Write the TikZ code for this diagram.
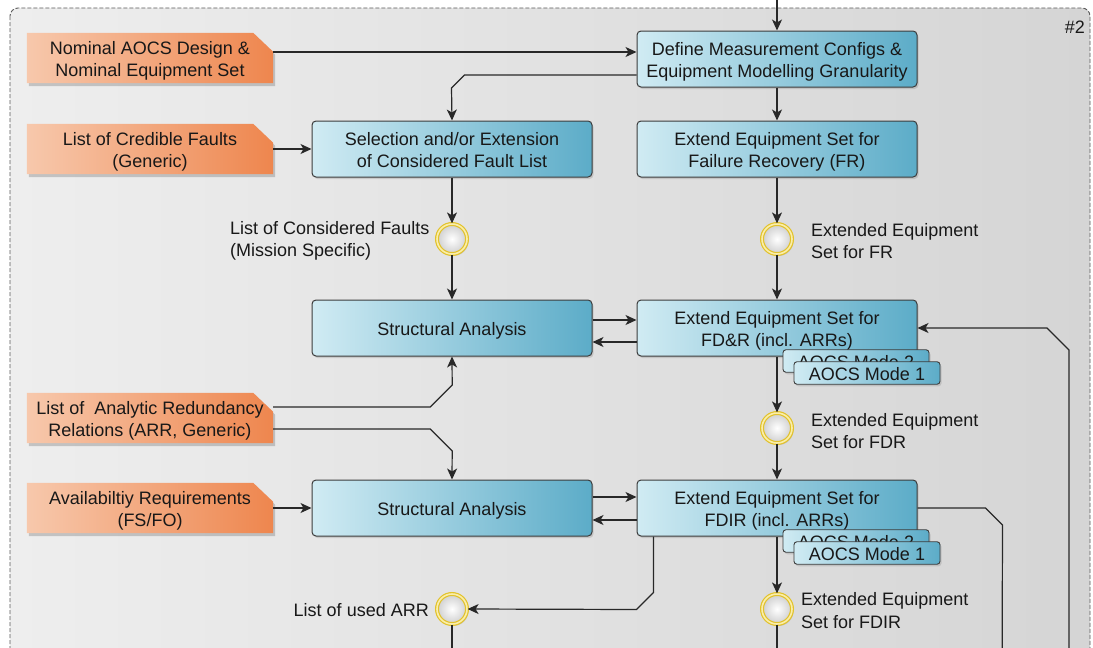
\documentclass[tikz,border=0pt]{standalone}
\usepackage{fontspec}
\setmainfont{Liberation Sans}
\usetikzlibrary{arrows.meta,shadows}

\definecolor{orL}{RGB}{247,200,172}
\definecolor{orR}{RGB}{238,134,78}
\definecolor{blL}{RGB}{208,235,243}
\definecolor{blR}{RGB}{92,172,200}
\definecolor{lineC}{RGB}{40,40,40}
\definecolor{edgeC}{RGB}{60,60,60}
\definecolor{ringC}{RGB}{226,194,44}
\definecolor{ringIn}{RGB}{250,238,170}
\definecolor{bgL}{RGB}{238,238,238}
\definecolor{bgR}{RGB}{213,213,213}
\definecolor{txt}{RGB}{24,24,24}

\pgfdeclarelayer{frame}
\pgfdeclarelayer{shapes}
\pgfsetlayers{frame,shapes,main}

% centred block of lines, set on struts and lowered a little inside its box
\newcommand\ctext[1]{\raisebox{-3pt}[\height][\depth]{\begin{tabular}{@{}c@{}}#1\end{tabular}}}

% orange input with a cut top-right corner, filled behind its text node
\newcommand\cutcornerfill[1]{%
  \begin{pgfonlayer}{shapes}
    \fill[black,opacity=0.18]
      ([shift={(2pt,-3pt)}]#1.south west) -- ([shift={(2pt,-3pt)}]#1.north west)
      -- ([shift={(-18pt,-3pt)}]#1.north east) -- ([shift={(2pt,-22pt)}]#1.north east)
      -- ([shift={(2pt,-3pt)}]#1.south east) -- cycle;
    \shade[left color=orL,right color=orR]
      (#1.south west) -- (#1.north west) -- ([xshift=-20pt]#1.north east)
      -- ([yshift=-19pt]#1.north east) -- (#1.south east) -- cycle;
  \end{pgfonlayer}}

\begin{document}
\begin{tikzpicture}[x=1pt,y=-1pt,
  font=\fontsize{18}{22.5}\selectfont, text=txt,
  softshadow/.style={drop shadow={opacity=0.28,shadow xshift=1.5pt,shadow yshift=-2pt}},
  proc/.style={rectangle,rounded corners=4pt,draw=edgeC,line width=1pt,
    left color=blL,right color=blR,minimum width=280pt,minimum height=56pt,
    inner sep=0pt,align=center,softshadow},
  modetab/.style={rectangle,rounded corners=3pt,draw=edgeC,line width=0.9pt,
    left color=blL,right color=blR,minimum width=146pt,minimum height=22pt,
    inner sep=0pt,softshadow},
  inbox/.style={minimum width=246pt,minimum height=50pt,inner sep=0pt,align=center},
  datastore/.style={circle,minimum size=30pt,inner sep=0pt,draw=ringC,line width=1.2pt,
    double=ringIn,double distance=1.6pt,inner color=white,outer color=gray!38,softshadow},
  lbl/.style={inner sep=0pt,align=left},
  ln/.style={draw=lineC,line width=1.2pt},
  arr/.style={ln,-{Stealth[length=11pt,width=10pt,inset=3pt]}}]

\useasboundingbox (0,0) rectangle (1093,648);

% dashed group frame
\begin{pgfonlayer}{frame}
  \fill[white] (0,0) rectangle (1093,648);
  \draw[draw=black!65,line width=0.9pt,dash pattern=on 4pt off 2pt,rounded corners=8pt,
        left color=bgL,right color=bgR] (10,8) rectangle (1090,700);
\end{pgfonlayer}
\node[inner sep=0pt,anchor=east] (grp) at (1085,27) {\#2};

% inputs
\node[inbox] (nom)   at (150,58)  {\ctext{Nominal AOCS Design \&\\Nominal Equipment Set}};
\node[inbox] (cred)  at (150,149) {\ctext{List of Credible Faults\\(Generic)}};
\node[inbox] (arrn)  at (150,418) {\ctext{List of\ \ Analytic Redundancy\\Relations (ARR, Generic)}};
\node[inbox] (avail) at (150,508) {\ctext{Availabiltiy Requirements\\(FS/FO)}};
\cutcornerfill{nom}
\cutcornerfill{cred}
\cutcornerfill{arrn}
\cutcornerfill{avail}

% process steps
\node[proc] (def)  at (777,59)  {\ctext{Define Measurement Configs \&\\Equipment Modelling Granularity}};
\node[proc] (sel)  at (452,149) {\ctext{Selection and/or Extension\\of Considered Fault List}};
\node[proc] (fr)   at (777,149) {\ctext{Extend Equipment Set for\\Failure Recovery (FR)}};
\node[proc] (sa1)  at (452,328) {\ctext{Structural Analysis}};
\node[proc] (fdr)  at (777,328) {\ctext{Extend Equipment Set for\\FD\&R (incl. ARRs)}};
\node[modetab] (fdrm2) at (856,361) {\ctext{AOCS Mode 2}};
\node[modetab] (fdrm1) at (867,373) {\ctext{AOCS Mode 1}};
\node[proc] (sa2)  at (452,508) {\ctext{Structural Analysis}};
\node[proc] (fdir) at (777,508) {\ctext{Extend Equipment Set for\\FDIR (incl. ARRs)}};
\node[modetab] (fdirm2) at (856,541) {\ctext{AOCS Mode 2}};
\node[modetab] (fdirm1) at (867,553) {\ctext{AOCS Mode 1}};

% intermediate results
\node[datastore] (c1) at (452,239) {};
\node[datastore] (c2) at (777,239) {};
\node[datastore] (c3) at (777,428) {};
\node[datastore] (c4) at (452,609) {};
\node[datastore] (c5) at (777,609) {};
\node[lbl,anchor=west] (l1) at (230,241) {List of Considered Faults\\(Mission Specific)};
\node[lbl,anchor=west] (l2) at (811,241) {Extended Equipment\\Set for FR};
\node[lbl,anchor=west] (l3) at (811,431) {Extended Equipment\\Set for FDR};
\node[lbl,anchor=east] (l4) at (429,610) {List of used ARR};
\node[lbl,anchor=west] (l5) at (801,610.5) {Extended Equipment\\Set for FDIR};

% loose ends entering / leaving the group
\coordinate (topin) at (777,0);
\coordinate (outA) at (452,700);
\coordinate (outB) at (777,700);
\coordinate (outC) at (1002,700);
\coordinate (inD)  at (1069,700);

% connectors
\draw[arr] (topin) -- (def.north);
\draw[arr] ([yshift=6pt]nom.east) coordinate (nomout) -- (nomout -| def.west);
\draw[arr] ([yshift=-16pt]def.west) -- ++(-172pt,0) -- ++(-13pt,-13pt) -- (sel.north);
\draw[arr] (def.south) -- (fr.north);
\draw[arr] (cred.east) -- (sel.west);
\draw[arr] (sel.south) -- (c1.north);
\draw[arr] (c1.south) -- (sa1.north);
\draw[arr] (fr.south) -- (c2.north);
\draw[arr] (c2.south) -- (fdr.north);
\draw[arr] ([yshift=8pt]sa1.east) coordinate (s1a) -- (s1a -| fdr.west);
\draw[arr] ([yshift=-14pt]fdr.west) coordinate (f1a) -- (f1a -| sa1.east);
\draw[arr] ([yshift=11pt]arrn.east) -- ++(157pt,0) -- ++(22pt,22pt) -- (sa1.south);
\draw[arr] ([yshift=-11pt]arrn.east) -- ++(157pt,0) -- ++(22pt,-22pt) -- (sa2.north);
\draw[arr] (fdr.south) -- (c3.north);
\draw[arr] (c3.south) -- (fdir.north);
\draw[arr] (avail.east) -- (sa2.west);
\draw[arr] ([yshift=11pt]sa2.east) coordinate (s2a) -- (s2a -| fdir.west);
\draw[arr] ([yshift=-12pt]fdir.west) coordinate (f2a) -- (f2a -| sa2.east);
\draw[arr] ([xshift=17pt]fdir.south west) -- ++(0,-56pt) -- ++(-17pt,-17pt) -- (c4.east);
\draw[ln] (c4.south) -- (outA);
\draw[arr] (fdir.south) -- (c5.north);
\draw[ln] (c5.south) -- (outB);
\draw[ln] (fdir.east) -- ++(68pt,0) -- ++(17pt,-17pt) -- (outC);
\draw[arr] (inD) -- ++(0,350pt) -- ++(-22pt,22pt) -- (fdr.east);

\end{tikzpicture}
\end{document}
